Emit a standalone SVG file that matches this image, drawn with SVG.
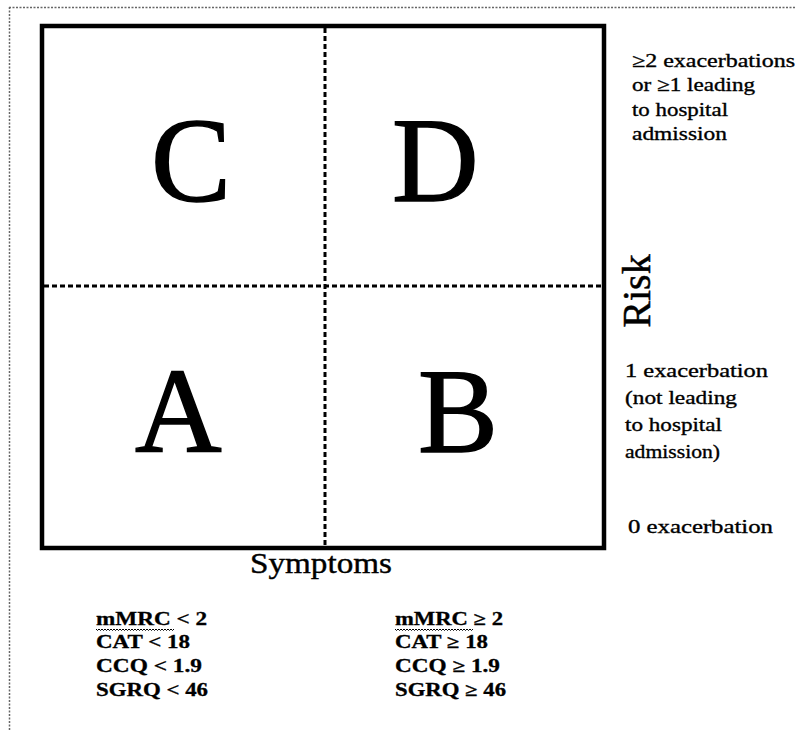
<svg xmlns="http://www.w3.org/2000/svg" width="795" height="731" viewBox="0 0 795 731">
<style>
text{font-family:"Liberation Serif","Times New Roman",serif;fill:#000}
.big{font-size:120px;stroke:#000;stroke-width:1.5}
.lbl{font-size:19px;stroke:#000;stroke-width:0.35}
.bold{font-size:18px;font-weight:bold;stroke:#000;stroke-width:0.3}
.dot{stroke:#000;stroke-width:3;stroke-dasharray:5 3;fill:none}
.wavy{stroke:#000;stroke-width:1;fill:none}
</style>
<rect width="795" height="731" fill="#fff"/>
<g id="frame">
<path d="M9,7.5 H795 M9.5,7 V731" stroke="#666" stroke-width="1.5" stroke-dasharray="2 1.5" fill="none"/>
</g>
<g id="grid">
<rect x="42" y="26" width="562" height="522" fill="none" stroke="#000" stroke-width="4.5"/>
</g>
<g id="connectors">
<line class="dot" x1="325" y1="28" x2="325" y2="546"/>
<line class="dot" x1="44" y1="286" x2="602" y2="286"/>
</g>
<g id="quadrant-C"><text class="big" x="151" y="201">C</text></g>
<g id="quadrant-D"><text class="big" x="392" y="201">D</text></g>
<g id="quadrant-A"><text class="big" x="135" y="452">A</text></g>
<g id="quadrant-B"><text class="big" x="418" y="452">B</text></g>
<g id="risk-axis">
<text font-size="40" stroke="#000" stroke-width="0.5" transform="translate(650,291) rotate(-90)" text-anchor="middle">Risk</text>
</g>
<g id="risk-high">
<text class="lbl" x="632" y="67" textLength="163" lengthAdjust="spacingAndGlyphs">≥2 exacerbations</text>
<text class="lbl" x="632" y="91" textLength="123" lengthAdjust="spacingAndGlyphs">or ≥1 leading</text>
<text class="lbl" x="632" y="116" textLength="96" lengthAdjust="spacingAndGlyphs">to hospital</text>
<text class="lbl" x="632" y="140" textLength="95" lengthAdjust="spacingAndGlyphs">admission</text>
</g>
<g id="risk-mid">
<text class="lbl" x="625" y="377" textLength="143" lengthAdjust="spacingAndGlyphs">1 exacerbation</text>
<text class="lbl" x="625" y="404" textLength="112" lengthAdjust="spacingAndGlyphs">(not leading</text>
<text class="lbl" x="625" y="431" textLength="97" lengthAdjust="spacingAndGlyphs">to hospital</text>
<text class="lbl" x="625" y="458" textLength="95" lengthAdjust="spacingAndGlyphs">admission)</text>
</g>
<g id="risk-low">
<text class="lbl" x="628" y="533" textLength="145" lengthAdjust="spacingAndGlyphs">0 exacerbation</text>
</g>
<g id="symptoms-axis">
<text font-size="30" stroke="#000" stroke-width="0.4" x="250" y="573" textLength="142" lengthAdjust="spacingAndGlyphs">Symptoms</text>
</g>
<g id="symptoms-low">
<text class="bold" x="96" y="625" textLength="111" lengthAdjust="spacingAndGlyphs">mMRC &lt; 2</text>
<path class="wavy" d="M96,629 l1.5,1.5 l1.5,-1.5 l1.5,1.5 l1.5,-1.5 l1.5,1.5 l1.5,-1.5 l1.5,1.5 l1.5,-1.5 l1.5,1.5 l1.5,-1.5 l1.5,1.5 l1.5,-1.5 l1.5,1.5 l1.5,-1.5 l1.5,1.5 l1.5,-1.5 l1.5,1.5 l1.5,-1.5 l1.5,1.5 l1.5,-1.5 l1.5,1.5 l1.5,-1.5 l1.5,1.5 l1.5,-1.5 l1.5,1.5 l1.5,-1.5 l1.5,1.5 l1.5,-1.5 l1.5,1.5 l1.5,-1.5 l1.5,1.5 l1.5,-1.5 l1.5,1.5 l1.5,-1.5 l1.5,1.5 l1.5,-1.5 l1.5,1.5 l1.5,-1.5 l1.5,1.5 l1.5,-1.5 l1.5,1.5 l1.5,-1.5 l1.5,1.5 l1.5,-1.5 l1.5,1.5 l1.5,-1.5 l1.5,1.5 l1.5,-1.5 l1.5,1.5 l1.5,-1.5 l1.5,1.5 l1.5,-1.5"/>
<text class="bold" x="96" y="648" textLength="94" lengthAdjust="spacingAndGlyphs">CAT &lt; 18</text>
<text class="bold" x="96" y="672" textLength="106" lengthAdjust="spacingAndGlyphs">CCQ &lt; 1.9</text>
<text class="bold" x="96" y="696" textLength="112" lengthAdjust="spacingAndGlyphs">SGRQ &lt; 46</text>
</g>
<g id="symptoms-high">
<text class="bold" x="395" y="625" textLength="108" lengthAdjust="spacingAndGlyphs">mMRC ≥ 2</text>
<path class="wavy" d="M395,629 l1.5,1.5 l1.5,-1.5 l1.5,1.5 l1.5,-1.5 l1.5,1.5 l1.5,-1.5 l1.5,1.5 l1.5,-1.5 l1.5,1.5 l1.5,-1.5 l1.5,1.5 l1.5,-1.5 l1.5,1.5 l1.5,-1.5 l1.5,1.5 l1.5,-1.5 l1.5,1.5 l1.5,-1.5 l1.5,1.5 l1.5,-1.5 l1.5,1.5 l1.5,-1.5 l1.5,1.5 l1.5,-1.5 l1.5,1.5 l1.5,-1.5 l1.5,1.5 l1.5,-1.5 l1.5,1.5 l1.5,-1.5 l1.5,1.5 l1.5,-1.5 l1.5,1.5 l1.5,-1.5 l1.5,1.5 l1.5,-1.5 l1.5,1.5 l1.5,-1.5 l1.5,1.5 l1.5,-1.5 l1.5,1.5 l1.5,-1.5 l1.5,1.5 l1.5,-1.5 l1.5,1.5 l1.5,-1.5 l1.5,1.5 l1.5,-1.5 l1.5,1.5 l1.5,-1.5 l1.5,1.5 l1.5,-1.5"/>
<text class="bold" x="395" y="648" textLength="93" lengthAdjust="spacingAndGlyphs">CAT ≥ 18</text>
<text class="bold" x="395" y="672" textLength="105" lengthAdjust="spacingAndGlyphs">CCQ ≥ 1.9</text>
<text class="bold" x="395" y="696" textLength="111" lengthAdjust="spacingAndGlyphs">SGRQ ≥ 46</text>
</g>
</svg>
